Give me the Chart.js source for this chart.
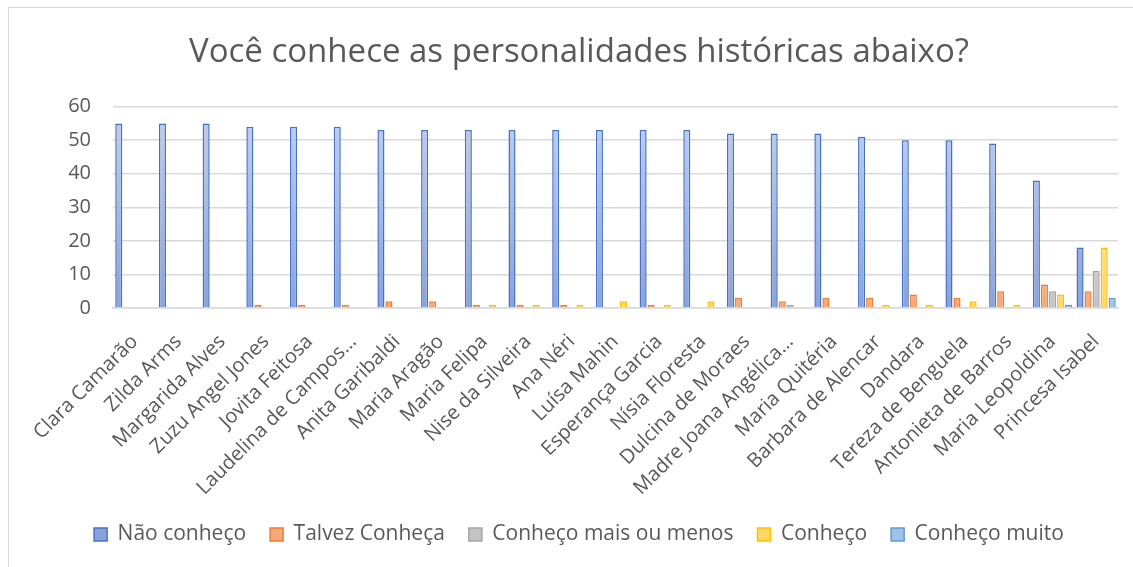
<!DOCTYPE html>
<html>
<head>
<meta charset="utf-8">
<script src="https://cdn.jsdelivr.net/npm/chart.js@4.4.1/dist/chart.umd.min.js"></script>
<style>
  html, body { margin: 0; padding: 0; background: #fff; }
  #wrap { position: relative; width: 1133px; height: 567px; overflow: hidden; }
  #frame { position: absolute; left: 8px; top: 7px; width: 1140px; height: 580px; border: 1px solid #d9d9d9; box-sizing: border-box; }
  canvas { position: absolute; left: 0; top: 0; }
</style>
</head>
<body>
<div id="wrap">
  <div id="frame"></div>
  <canvas id="chart" width="1133" height="567"></canvas>
</div>
<script>
// Categories
const names = ['Clara Camarão', 'Zilda Arms', 'Margarida Alves', 'Zuzu Angel Jones', 'Jovita Feitosa',
    'Laudelina de Campos…', 'Anita Garibaldi', 'Maria Aragão', 'Maria Felipa', 'Nise da Silveira',
    'Ana Néri', 'Luísa Mahin', 'Esperança Garcia', 'Nísia Floresta', 'Dulcina de Moraes',
    'Madre Joana Angélica…', 'Maria Quitéria', 'Barbara de Alencar', 'Dandara', 'Tereza de Benguela',
    'Antonieta de Barros', 'Maria Leopoldina', 'Princesa Isabel'];

// Series values
const naoConheco =    [55, 55, 55, 54, 54, 54, 53, 53, 53, 53, 53, 53, 53, 53, 52, 52, 52, 51, 50, 50, 49, 38, 18];
const talvezConheca = [0, 0, 0, 1, 1, 1, 2, 2, 1, 1, 1, 0, 1, 0, 3, 2, 3, 3, 4, 3, 5, 7, 5];
const maisOuMenos =   [0, 0, 0, 0, 0, 0, 0, 0, 0, 0, 0, 0, 0, 0, 0, 1, 0, 0, 0, 0, 0, 5, 11];
const conheco =       [0, 0, 0, 0, 0, 0, 0, 0, 1, 1, 1, 2, 1, 2, 0, 0, 0, 1, 1, 2, 1, 4, 18];
const conhecoMuito =  [0, 0, 0, 0, 0, 0, 0, 0, 0, 0, 0, 0, 0, 0, 0, 0, 0, 0, 0, 0, 0, 1, 3];

// Axis ticks
const yTicks = [0, 10, 20, 30, 40, 50, 60];

const textColor = '#595959';
const fontFamily = '"Open Sans", "Noto Sans", sans-serif';
const padLeft = 40;

// vertical gradient like the Excel fill
function gradFill(light, dark) {
    return (c) => {
        const area = c.chart.chartArea;
        if (!area) return dark;
        const g = c.chart.ctx.createLinearGradient(0, area.top, 0, area.bottom);
        g.addColorStop(0, light);
        g.addColorStop(1, dark);
        return g;
    };
}

function series(label, data, border, light, dark) {
    return {
        label: label,
        data: data,
        borderColor: border,
        backgroundColor: gradFill(light, dark),
        borderWidth: 1.5,
        borderSkipped: 'bottom'
    };
}

const ctx = document.getElementById('chart').getContext('2d');
new Chart(ctx, {
    type: 'bar',
    data: {
        labels: names,
        datasets: [
            series('Não conheço', naoConheco, '#4472C4', '#c3cfee', '#8aa3dc'),
            series('Talvez Conheça', talvezConheca, '#ED7D31', '#fcdccb', '#f4a97a'),
            series('Conheço mais ou menos', maisOuMenos, '#A5A5A5', '#ececec', '#c4c4c4'),
            series('Conheço', conheco, '#FFC000', '#fff0c2', '#ffd766'),
            series('Conheço muito', conhecoMuito, '#5B9BD5', '#d6e5f5', '#9fc3e8')
        ]
    },
    options: {
        responsive: false,
        animation: false,
        layout: { padding: { left: padLeft, right: 15, top: 21, bottom: 12 } },
        datasets: {
            bar: { categoryPercentage: 0.92, barPercentage: 0.88 }
        },
        plugins: {
            title: {
                display: true,
                text: 'Você conhece as personalidades históricas abaixo?',
                color: textColor,
                font: { family: fontFamily, size: 33, weight: 'normal' },
                padding: { top: 12, bottom: 34 }
            },
            legend: {
                position: 'bottom',
                labels: {
                    color: textColor,
                    font: { family: fontFamily, size: 21 },
                    boxWidth: 13,
                    boxHeight: 13,
                    padding: 24
                }
            },
            tooltip: { enabled: false }
        },
        scales: {
            x: {
                grid: { display: false },
                border: { color: '#d9d9d9', width: 1.5 },
                ticks: {
                    color: textColor,
                    font: { family: fontFamily, size: 20 },
                    minRotation: 45,
                    maxRotation: 45,
                    autoSkip: false,
                    padding: 14
                },
                afterFit: (scale) => { scale.height = 192; }
            },
            y: {
                min: 0,
                max: 60,
                afterBuildTicks: (scale) => { scale.ticks = yTicks.map(v => ({ value: v })); },
                afterFit: (scale) => { scale.width = 113 - padLeft; },
                grid: { color: '#d9d9d9', lineWidth: 1.5, drawTicks: false },
                border: { display: false },
                ticks: {
                    color: textColor,
                    font: { family: fontFamily, size: 20 },
                    padding: 22
                }
            }
        }
    }
});
</script>
</body>
</html>
